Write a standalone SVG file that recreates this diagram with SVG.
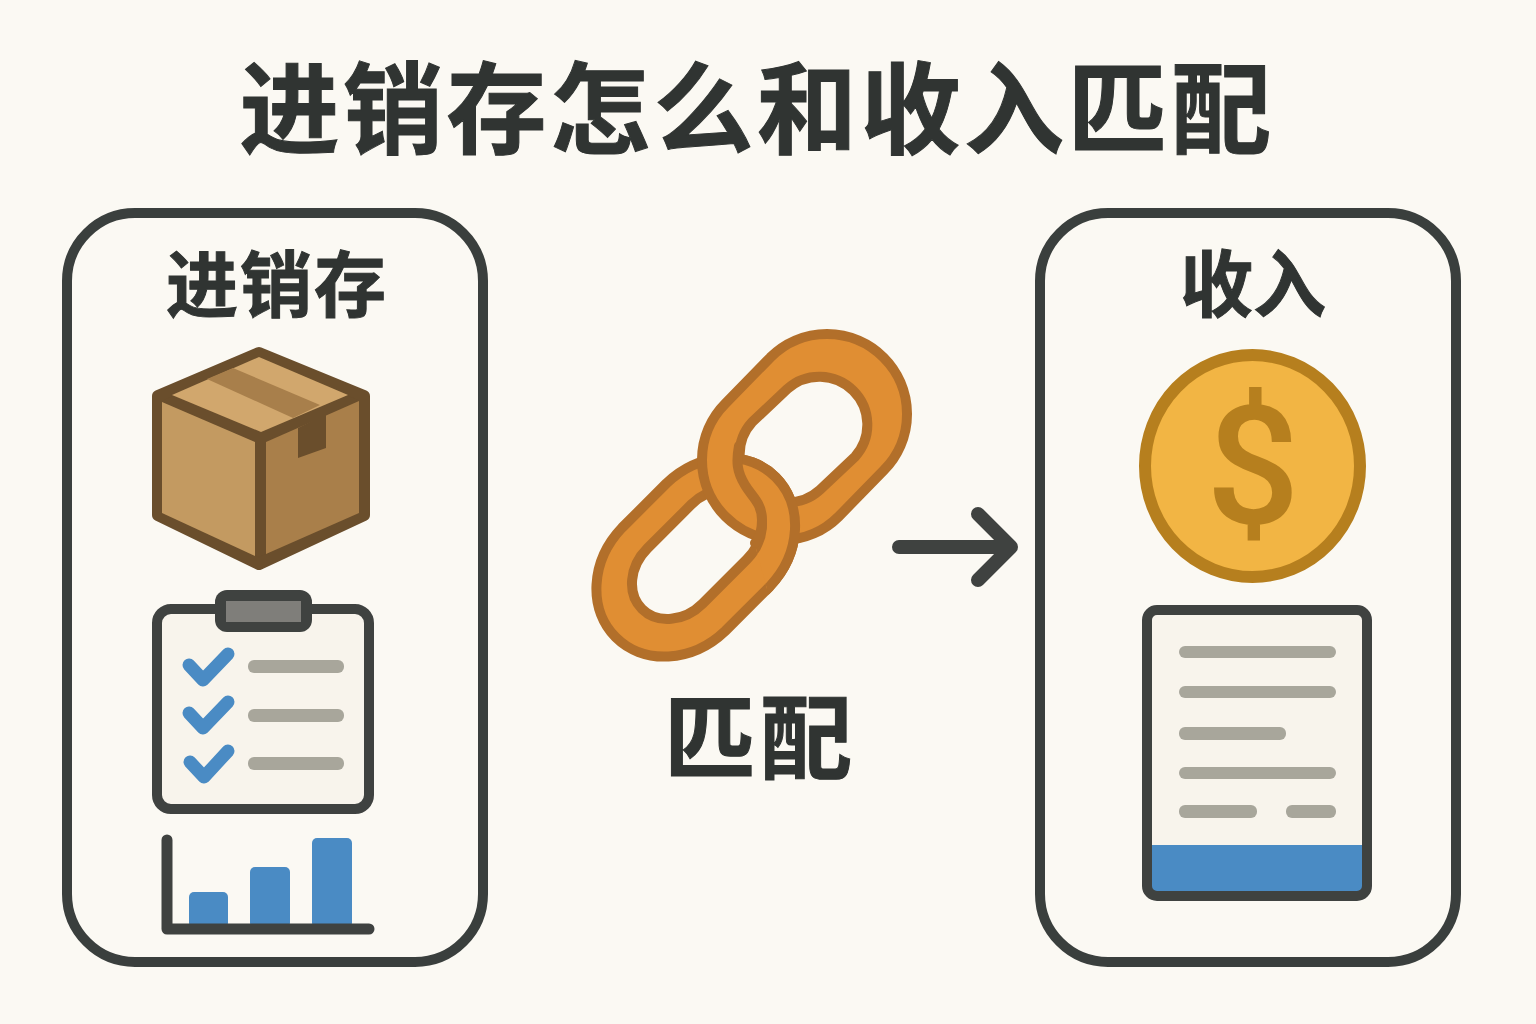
<svg xmlns="http://www.w3.org/2000/svg" width="1536" height="1024" viewBox="0 0 1536 1024">
<defs>
<style>
text{font-family:"Noto Sans CJK SC","Noto Sans",sans-serif;font-weight:700;fill:#303432;stroke:#303432;stroke-width:1;text-anchor:middle}
.card{fill:#fbf9f3;stroke:#3a3f3d;stroke-width:10}
.ink{stroke:#3f4240;fill:none;stroke-linecap:round;stroke-linejoin:round}
.bar{fill:#4a8bc4}
.gl{fill:#a8a69b}
.chk{fill:none;stroke:#4a8bc4;stroke-width:13;stroke-linecap:round;stroke-linejoin:round}
.link{fill:#e08e33;fill-rule:evenodd;stroke:#b26f2a;stroke-width:10;stroke-linejoin:round}
</style>
<path id="upper" d="M770.400 357.400L725.400 403.400A80 80 0 0 0 838.600 516.600L883.600 470.600A80 80 0 0 0 770.400 357.400ZM787.100 389.100L752.100 422.100A48 48 0 0 0 819.900 489.900L854.900 456.900A48 48 0 0 0 787.100 389.100Z"/>
<path id="lower" d="M666.400 483.400L621.900 527.900A84 73 -45 0 0 725.100 631.100L769.600 586.600A84 73 -45 0 0 666.400 483.400ZM691.400 504.400L647.400 548.400A46.600 39 -45 0 0 702.600 603.600L746.600 559.600A46.600 39 -45 0 0 691.400 504.400Z"/>
<clipPath id="over"><path d="M739 446C736 462 737 472 745 485C752 497 762 503 762 520C762 530 760 538 755 545L770 600L860 600L860 420L739 420Z"/></clipPath>
</defs>
<rect width="1536" height="1024" fill="#fbf9f3"/>
<g id="title"><text x="757" y="146" font-size="100" letter-spacing="3.500">进销存怎么和收入匹配</text></g>
<g id="node-inventory">
<rect class="card" x="67" y="213" width="416" height="749" rx="68"/>
<text x="277" y="311" font-size="72" letter-spacing="2">进销存</text>
<g id="box">
<polygon points="259,353 364,396 364,515 259,564 158,515 158,396" fill="#6a4e2c" stroke="#6a4e2c" stroke-width="12" stroke-linejoin="round"/>
<polygon points="259,357 348,395 261,432 172,395" fill="#d1a76d"/>
<polygon points="233,368 320,405 293,418 207,379" fill="#a87f4b"/>
<polygon points="162,402 255,442 255,556 162,513" fill="#c39a61"/>
<polygon points="266,442 359,401 359,513 266,554" fill="#a97f4a"/>
<polygon points="298,428 326,414 326,448 298,458" fill="#6a4e2c"/>
</g>
<g id="clipboard">
<rect x="157" y="609" width="212" height="200" rx="14" fill="#f8f4ec" stroke="#3f4240" stroke-width="10"/>
<rect x="215" y="590" width="97" height="42" rx="12" fill="#3f4240"/>
<rect x="226" y="601" width="75" height="21" fill="#7f7e7a"/>
<polyline class="chk" points="189,665 203,680 228,654"/>
<polyline class="chk" points="189,713 203,728 228,702"/>
<polyline class="chk" points="190,762 204,777 228,751"/>
<rect class="gl" x="248" y="660" width="96" height="13" rx="6"/>
<rect class="gl" x="248" y="709" width="96" height="13" rx="6"/>
<rect class="gl" x="248" y="757" width="96" height="13" rx="6"/>
</g>
<g id="chart">
<rect class="bar" x="189" y="892" width="39" height="36" rx="5"/>
<rect class="bar" x="250" y="867" width="40" height="61" rx="5"/>
<rect class="bar" x="312" y="838" width="40" height="90" rx="5"/>
<polyline class="ink" stroke-width="11" points="167,840 167,929 369,929"/>
</g>
</g>
<g id="node-match">
<g id="link">
<use href="#lower" class="link"/>
<use href="#upper" class="link"/>
<g clip-path="url(#over)"><use href="#lower" class="link"/></g>
<path d="M739 446C736 462 737 472 745 485C752 497 762 503 762 520C762 530 760 538 755 543" fill="none" stroke="#b26f2a" stroke-width="10" stroke-linecap="round"/>
</g>
<text x="760" y="772" font-size="92" letter-spacing="4">匹配</text>
</g>
<g id="connectors">
<path class="ink" stroke-width="14" stroke="#3a3f3d" d="M899 547H1010M978 514L1011 547L978 580"/>
</g>
<g id="node-revenue">
<rect class="card" x="1040" y="213" width="416" height="749" rx="68"/>
<text x="1253" y="311" font-size="73">收入</text>
<g id="coin">
<ellipse cx="1252.500" cy="466" rx="107.500" ry="111" fill="#f2b544" stroke="#b67f1e" stroke-width="12"/>
<text x="1253" y="523" font-size="165" style="font-family:Roboto,'Liberation Sans',sans-serif;font-weight:500;fill:#b67f1e;stroke:none">$</text>
</g>
<g id="receipt">
<rect x="1147" y="610" width="220" height="286" rx="10" fill="#f8f4ec"/>
<rect x="1147" y="845" width="220" height="51" fill="#4a8bc4"/>
<rect x="1147" y="610" width="220" height="286" rx="10" fill="none" stroke="#3f4240" stroke-width="10"/>
<rect class="gl" x="1179" y="646" width="157" height="12" rx="6"/>
<rect class="gl" x="1179" y="686" width="157" height="12" rx="6"/>
<rect class="gl" x="1179" y="727" width="107" height="13" rx="6"/>
<rect class="gl" x="1179" y="767" width="157" height="12" rx="6"/>
<rect class="gl" x="1179" y="805" width="78" height="13" rx="6"/>
<rect class="gl" x="1286" y="805" width="50" height="13" rx="6"/>
</g>
</g>
</svg>
